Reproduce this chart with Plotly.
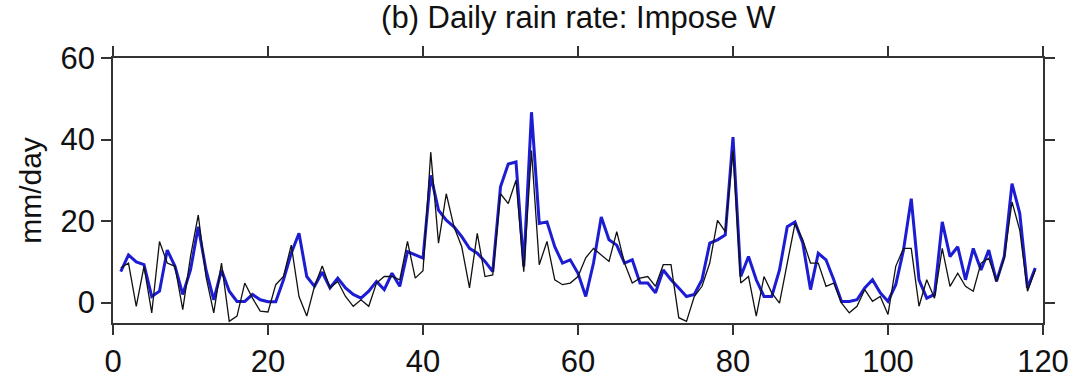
import plotly.graph_objects as go

days = list(range(1, 120))

observed = [8.5, 9.7, -0.9, 8.9, -2.5, 15, 9.7, 8.9, -1.7, 11.3,
            21.5, 6.4, -2.5, 9.7, -4.6, -3.3, 4.8, 1.1, -2.1, -2.3,
            4.4, 6.4, 14.1, 1.5, -3.3, 4, 9, 3.6, 5.2, 1.5,
            -0.9, 0.7, -0.9, 4.8, 6.4, 6.4, 5.6, 15, 6, 7.8,
            36.9, 14.6, 26.7, 18.6, 13.7, 3.6, 17, 6.4, 6.8, 26.7,
            24.3, 30, 7.6, 37.3, 9.3, 15, 5.6, 4.4, 4.8, 6.4,
            11, 13.3, 11.7, 10.1, 17.4, 9.7, 4.8, 6, 6.4, 4,
            9.3, 9.3, -3.7, -4.6, 1.5, 4, 9.7, 20.2, 17.4, 37.3,
            4.8, 6.4, -3.3, 6.4, 2.4, -0.1, 9.7, 19.4, 15.4, 9.7,
            9.7, 4, 4.8, -0.1, -2.5, -0.9, 3.2, 0.3, 1.5, -2.9,
            8.9, 13.3, 13.3, -0.9, 5.6, 1.1, 13.3, 4, 7.2, 4,
            2.8, 9.7, 10.9, 5.2, 10.9, 24.7, 17.8, 2.8, 8]

impose_w = [7.6, 11.7, 10, 9.3, 1.5, 2.8, 12.9, 8.9, 2, 8,
            18.6, 8, 0.7, 8, 2.8, 0.3, 0.3, 2, 0.7, 0.2,
            0.2, 5.6, 12.1, 17, 6.4, 4, 7.5, 3.6, 6, 3.6,
            2, 1.1, 2.8, 5.2, 3.2, 7.2, 4, 12.5, 11.7, 10.9,
            31.2, 22.7, 20.2, 18.6, 16.2, 13.3, 12.1, 10.1, 7.6, 28.4,
            34, 34.5, 8.9, 46.7, 19.4, 19.8, 13.7, 9.7, 10.5, 7.2,
            1.5, 9.7, 21, 15.4, 14.1, 9.7, 10.5, 4.8, 4.8, 2.4,
            8, 5.6, 3.6, 1.5, 2, 5.6, 14.6, 15.4, 16.6, 40.6,
            6.4, 11.3, 5.6, 1.5, 1.5, 8, 18.6, 19.8, 14.6, 3.2,
            12.1, 10.5, 5.6, 0.3, 0.3, 0.7, 3.6, 5.6, 2.4, 0.3,
            4.4, 12.9, 25.5, 5.6, 1.1, 2, 19.8, 11.3, 13.7, 5.6,
            13.3, 8, 12.9, 5.2, 11.3, 29.2, 21.9, 3.6, 8.5]

x_ticks = [0, 20, 40, 60, 80, 100, 120]
y_ticks = [0, 20, 40, 60]

fig = go.Figure()
fig.add_trace(go.Scatter(x=days, y=impose_w, mode="lines",
                         line=dict(color="#1c1cd2", width=3), name="Impose W"))
fig.add_trace(go.Scatter(x=days, y=observed, mode="lines",
                         line=dict(color="#111111", width=1.3), name="Observed"))

font_family = "Liberation Sans, Arial, Helvetica, sans-serif"
fig.update_layout(
    width=1074, height=378,
    margin=dict(l=113, r=31, t=58, b=55, autoexpand=False),
    paper_bgcolor="white", plot_bgcolor="white",
    showlegend=False,
    font=dict(family=font_family, color="#111111"),
    title=dict(text="(b) Daily rain rate: Impose W", x=0.5385, xanchor="center",
               y=0.955, yanchor="middle", font=dict(size=31, family=font_family)),
)
fig.update_xaxes(range=[0, 120], tickvals=x_ticks, ticks="outside", ticklen=10,
                 tickwidth=1.5, tickcolor="#333333", showline=True, linecolor="#333333",
                 linewidth=1.5, mirror="ticks", showgrid=False, zeroline=False,
                 automargin=False, tickfont=dict(size=31))
fig.update_yaxes(range=[-5, 60], tickvals=y_ticks, ticks="outside", ticklen=10,
                 tickwidth=1.5, tickcolor="#333333", showline=True, linecolor="#333333",
                 linewidth=1.5, mirror="ticks", showgrid=False, zeroline=False,
                 automargin=False, tickfont=dict(size=31),
                 title=dict(text="mm/day", font=dict(size=30), standoff=10))

fig.write_html("out.html")
